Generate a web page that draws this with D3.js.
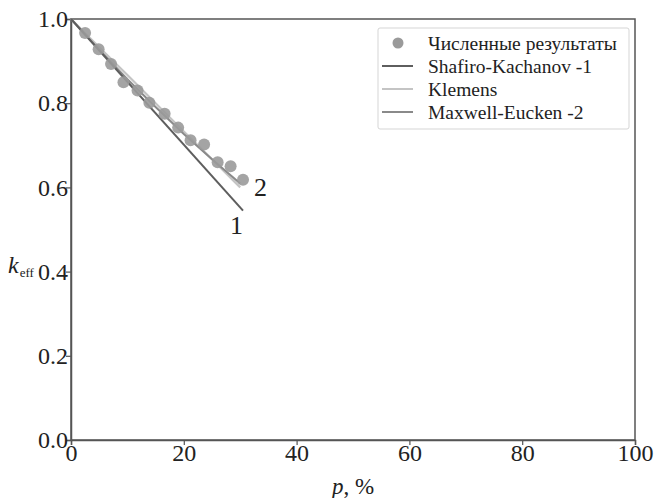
<!DOCTYPE html>
<html><head><meta charset="utf-8">
<script src="https://cdn.jsdelivr.net/npm/d3@7"></script>
<style>body{margin:0;background:#fff}svg{display:block}</style>
</head><body>
<svg id="c" width="656" height="498"></svg>
<script>
// Data
const numP = [2.5, 4.9, 7.1, 9.3, 11.8, 13.9, 16.6, 19.0, 21.2, 23.6, 26.0, 28.3, 30.5];
const numK = [0.967, 0.928, 0.893, 0.850, 0.830, 0.801, 0.775, 0.742, 0.712, 0.702, 0.660, 0.650, 0.618];
const shafiroP = [0, 30.5];
const shafiroK = [1.0, 0.545];
const klemensP = [0, 5, 10, 15, 20, 25, 30];
const klemensK = [1.0, 0.933, 0.867, 0.800, 0.733, 0.667, 0.600];
const maxwellP = [0, 5, 10, 15, 20, 25, 30];
const maxwellK = [1.0, 0.927, 0.857, 0.791, 0.727, 0.667, 0.609];
const xTicks = [0, 20, 40, 60, 80, 100];
const yTicks = [0.0, 0.2, 0.4, 0.6, 0.8, 1.0];
const legendLabels = ["Численные результаты", "Shafiro-Kachanov -1", "Klemens", "Maxwell-Eucken -2"];

const svg = d3.select("#c");
const L = 71, R = 635, T = 19, B = 440;
const x = d3.scaleLinear().domain([0, 100]).range([L, R]);
const y = d3.scaleLinear().domain([0, 1]).range([B, T]);
const axisCol = "#555";
const FF = "Liberation Serif";

svg.append("rect").attr("x", L).attr("y", T).attr("width", R - L).attr("height", B - T)
  .attr("fill", "none").attr("stroke", axisCol).attr("stroke-width", 1.5);

const gx = svg.append("g").attr("transform", `translate(0,${B})`)
  .call(d3.axisBottom(x).tickValues(xTicks).tickFormat(d3.format("d")).tickSizeOuter(0).tickSize(5));
const gy = svg.append("g").attr("transform", `translate(${L},0)`)
  .call(d3.axisLeft(y).tickValues(yTicks).tickFormat(d3.format(".1f")).tickSizeOuter(0).tickSize(5));
[gx, gy].forEach(g => {
  g.attr("font-family", FF).attr("font-size", 24);
  g.select(".domain").attr("stroke", axisCol).attr("stroke-width", 1.5);
  g.selectAll(".tick line").attr("stroke", axisCol).attr("stroke-width", 1.2);
  g.selectAll(".tick text").attr("font-family", FF).attr("font-size", 24).attr("fill", "#222");
});
gx.selectAll(".tick text").attr("dy", "0.75em").attr("y", 3);
gy.selectAll(".tick text").attr("x", -3).attr("dy", "0.32em");

const line = d3.line().x(d => x(d[0])).y(d => y(d[1]));
const mk = (P, K) => P.map((p, i) => [p, K[i]]);
svg.append("path").datum(mk(klemensP, klemensK)).attr("d", line)
  .attr("fill", "none").attr("stroke", "#c4c4c4").attr("stroke-width", 2.2);
svg.append("path").datum(mk(maxwellP, maxwellK)).attr("d", line)
  .attr("fill", "none").attr("stroke", "#8a8a8a").attr("stroke-width", 2);
svg.append("path").datum(mk(shafiroP, shafiroK)).attr("d", line)
  .attr("fill", "none").attr("stroke", "#5e5e5e").attr("stroke-width", 2);

svg.append("g").selectAll("circle").data(mk(numP, numK)).join("circle")
  .attr("cx", d => x(d[0])).attr("cy", d => y(d[1])).attr("r", 6)
  .attr("fill", "#9a9a9a").attr("fill-opacity", 0.9);

svg.append("text").attr("x", 230).attr("y", 234).text("1")
  .attr("font-family", FF).attr("font-size", 26).attr("fill", "#222");
svg.append("text").attr("x", 254).attr("y", 196).text("2")
  .attr("font-family", FF).attr("font-size", 26).attr("fill", "#222");

const xl = svg.append("text").attr("x", x(50)).attr("y", 494).attr("text-anchor", "middle")
  .attr("font-family", FF).attr("font-size", 23).attr("fill", "#222");
xl.append("tspan").attr("font-style", "italic").text("p");
xl.append("tspan").text(", %");
const yl = svg.append("text").attr("x", 8).attr("y", 273)
  .attr("font-family", FF).attr("font-size", 24).attr("fill", "#222");
yl.append("tspan").attr("font-style", "italic").text("k");
yl.append("tspan").attr("font-size", 13).attr("dy", 4).attr("dx", 1).text("eff");

const lg = svg.append("g");
lg.append("rect").attr("x", 378).attr("y", 28).attr("width", 251).attr("height", 101)
  .attr("fill", "#fff").attr("stroke", "#d5d5d5").attr("stroke-width", 1).attr("rx", 2);
const ly = [43, 66, 89, 112];
const lcol = [null, "#5e5e5e", "#c4c4c4", "#8a8a8a"];
legendLabels.forEach((t, i) => {
  if (i === 0) {
    lg.append("circle").attr("cx", 398).attr("cy", ly[i]).attr("r", 5.5).attr("fill", "#9a9a9a");
  } else {
    lg.append("line").attr("x1", 382).attr("x2", 413).attr("y1", ly[i]).attr("y2", ly[i])
      .attr("stroke", lcol[i]).attr("stroke-width", 2);
  }
  lg.append("text").attr("x", 428).attr("y", ly[i]).attr("dy", "0.35em").text(t)
    .attr("font-family", FF).attr("font-size", 19.5).attr("fill", "#222");
});
</script>
</body></html>
